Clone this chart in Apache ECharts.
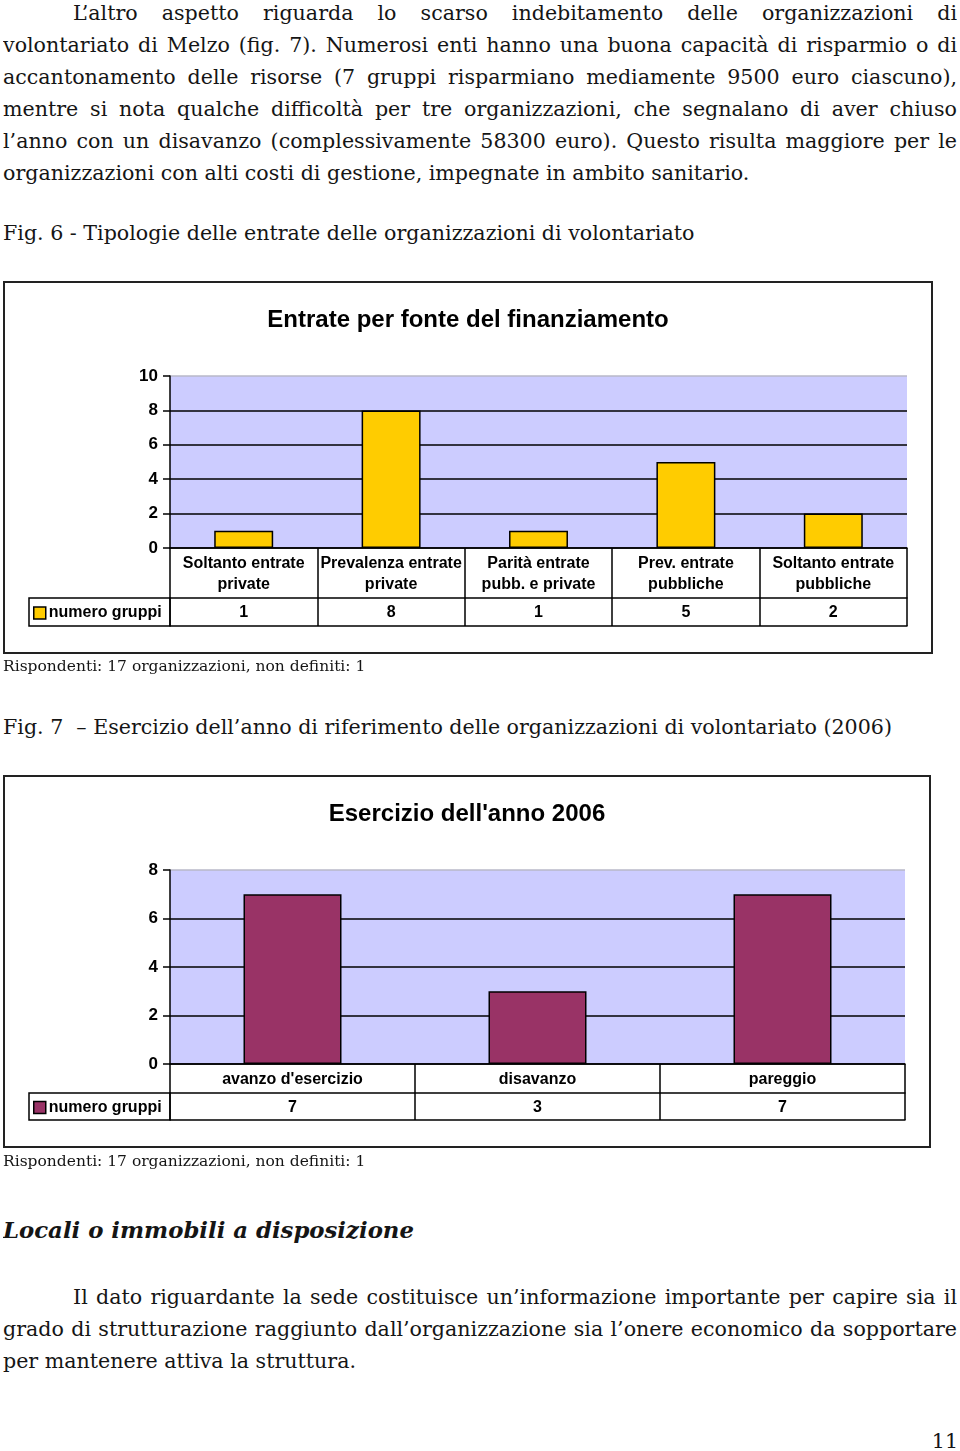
<!DOCTYPE html>
<html><head><meta charset="utf-8">
<script src="https://cdn.jsdelivr.net/npm/echarts@6/dist/echarts.min.js"></script>
<style>
body{margin:0;background:#fff;}
#page{position:relative;width:960px;height:1451px;font-family:'DejaVu Serif',serif;color:#151515;overflow:hidden;}
.ln{position:absolute;left:3px;width:954px;font-size:20.6px;line-height:32px;height:32px;white-space:nowrap;overflow:hidden;}
.j{text-align:justify;text-align-last:justify;white-space:normal;word-spacing:-2px;}
.small{font-size:15.5px;}
.head{font-size:22.8px;font-weight:bold;font-style:italic;height:40px;line-height:40px;}
.chart{position:absolute;}
</style></head>
<body><div id="page">
<div class="ln j" style="top:-3px;left:73px;width:884px;">L’altro aspetto riguarda lo scarso indebitamento delle organizzazioni di</div>
<div class="ln j" style="top:29px;">volontariato di Melzo (fig. 7). Numerosi enti hanno una buona capacità di risparmio o di</div>
<div class="ln j" style="top:61px;">accantonamento delle risorse (7 gruppi risparmiano mediamente 9500 euro ciascuno),</div>
<div class="ln j" style="top:93px;">mentre si nota qualche difficoltà per tre organizzazioni, che segnalano di aver chiuso</div>
<div class="ln j" style="top:125px;">l’anno con un disavanzo (complessivamente 58300 euro). Questo risulta maggiore per le</div>
<div class="ln" style="top:157px;">organizzazioni con alti costi di gestione, impegnate in ambito sanitario.</div>
<div class="ln" style="top:217px;">Fig. 6 - Tipologie delle entrate delle organizzazioni di volontariato</div>
<div id="c1" class="chart" style="left:3px;top:281px;width:930px;height:373px;"></div>
<div class="ln small" style="top:650px;">Rispondenti: 17 organizzazioni, non definiti: 1</div>
<div class="ln" style="top:711px;">Fig. 7 &nbsp;– Esercizio dell’anno di riferimento delle organizzazioni di volontariato (2006)</div>
<div id="c2" class="chart" style="left:3px;top:775px;width:928px;height:373px;"></div>
<div class="ln small" style="top:1145px;">Rispondenti: 17 organizzazioni, non definiti: 1</div>
<div class="ln head" style="top:1210px;">Locali o immobili a disposizione</div>
<div class="ln j" style="top:1281px;left:73px;width:884px;">Il dato riguardante la sede costituisce un’informazione importante per capire sia il</div>
<div class="ln j" style="top:1313px;">grado di strutturazione raggiunto dall’organizzazione sia l’onere economico da sopportare</div>
<div class="ln" style="top:1345px;">per mantenere attiva la struttura.</div>
<div class="ln" style="top:1425px;text-align:right;width:955px;">11</div>
</div>
<script>
// ---- data ----
var title1 = 'Entrate per fonte del finanziamento';
var categories1 = ['Soltanto entrate\nprivate', 'Prevalenza entrate\nprivate', 'Parità entrate\npubb. e private', 'Prev. entrate\npubbliche', 'Soltanto entrate\npubbliche'];
var values1 = [1, 8, 1, 5, 2];
var yMax1 = 10;
var title2 = "Esercizio dell'anno 2006";
var categories2 = ["avanzo d'esercizio", 'disavanzo', 'pareggio'];
var values2 = [7, 3, 7];
var yMax2 = 8;
var seriesName = 'numero gruppi';

var SANS = 'Liberation Sans, Arial, sans-serif';

function build(el, cfg) {
  var ch = echarts.init(document.getElementById(el), null, {renderer: 'canvas'});
  var W = cfg.W, H = cfg.H;
  var g = cfg.grid;
  var row1 = cfg.row1, row2 = cfg.row2;
  var nLines = cfg.yMax / 2 + 1;
  var splitColors = [];
  for (var i = 0; i < nLines; i++) splitColors.push(i === nLines - 1 ? '#b8b8c8' : '#000');
  var tableTop = g.top + g.height;
  ch.setOption({
    animation: false,
    backgroundColor: '#fff',
    title: {text: cfg.title, left: 'center', top: cfg.titleTop,
      textStyle: {fontFamily: SANS, fontWeight: 'bold', fontSize: 24, color: '#000'}},
    legend: {data: [seriesName], left: 30, top: tableTop + row1 + row2 / 2 - 7, icon: 'rect', padding: 0,
      itemWidth: 12, itemHeight: 12, itemGap: 4,
      itemStyle: {borderColor: '#000', borderWidth: 1.5},
      textStyle: {fontFamily: SANS, fontWeight: 'bold', fontSize: 16, color: '#000', padding: [0, 0, 0, -2]}},
    grid: {left: g.left, top: g.top, width: g.width, height: g.height, show: true,
      backgroundColor: '#ccccff', borderWidth: 0},
    xAxis: [
      {type: 'category', data: cfg.categories, position: 'bottom',
        axisLine: {show: true, lineStyle: {color: '#000', width: 1.5}},
        axisTick: {show: true, interval: 0, length: row1, inside: false, lineStyle: {color: '#000', width: 1.5}},
        axisLabel: {interval: 0, margin: row1 / 2 + 1, verticalAlign: 'middle', lineHeight: 21,
          fontFamily: SANS, fontWeight: 'bold', fontSize: 16, color: '#000'},
        splitLine: {show: false}},
      {type: 'category', data: cfg.values.map(String), position: 'bottom', offset: row1,
        axisLine: {show: true, onZero: false, lineStyle: {color: '#000', width: 1.5}},
        axisTick: {show: true, interval: 0, length: row2, lineStyle: {color: '#000', width: 1.5}},
        axisLabel: {interval: 0, margin: row2 / 2 + 1, verticalAlign: 'middle',
          fontFamily: SANS, fontWeight: 'bold', fontSize: 16, color: '#000'}},
      {type: 'category', data: cfg.values.map(String), position: 'bottom', offset: row1 + row2,
        axisLine: {show: true, onZero: false, lineStyle: {color: '#000', width: 1.5}},
        axisTick: {show: false}, axisLabel: {show: false}}
    ],
    yAxis: {type: 'value', min: 0, max: cfg.yMax, interval: 2,
      axisLine: {show: true, lineStyle: {color: '#000', width: 1.5}},
      axisTick: {show: true, length: 7, lineStyle: {color: '#000', width: 1.5}},
      axisLabel: {margin: 12, fontFamily: SANS, fontWeight: 'bold', fontSize: 17, color: '#000'},
      splitLine: {show: true, lineStyle: {color: splitColors, width: 1.5}}},
    series: [{name: seriesName, type: 'bar', data: cfg.values, xAxisIndex: 0, barWidth: '40%',
      itemStyle: {color: cfg.color, borderColor: '#000', borderWidth: 1.5}}],
    graphic: [
      {type: 'rect', shape: {x: 1, y: 1, width: W - 2, height: H - 2},
        style: {fill: 'none', stroke: '#222', lineWidth: 2}},
      {type: 'rect', shape: {x: 26, y: tableTop + row1, width: g.left - 26, height: row2},
        style: {fill: 'none', stroke: '#000', lineWidth: 1.5}}
    ]
  });
}

build('c1', {W: 930, H: 373, title: title1, titleTop: 22, categories: categories1, values: values1,
  yMax: yMax1, color: '#ffcc00', grid: {left: 167, top: 95, width: 737, height: 172}, row1: 50, row2: 28});
build('c2', {W: 928, H: 373, title: title2, titleTop: 22, categories: categories2, values: values2,
  yMax: yMax2, color: '#993366', grid: {left: 167, top: 95, width: 735, height: 194}, row1: 29, row2: 27});
</script>
</body></html>
